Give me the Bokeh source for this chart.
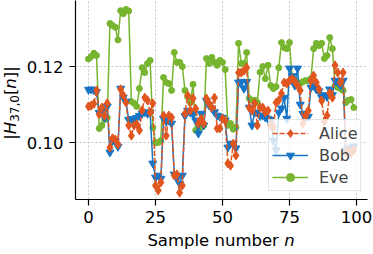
from bokeh.plotting import figure
from bokeh.models import Range1d, FixedTicker, Legend, LegendItem, Div
from bokeh.layouts import row, column
from bokeh.embed import file_html
from bokeh.resources import INLINE

n = list(range(100))

alice = [0.1095, 0.1097, 0.1102, 0.1137, 0.1074, 0.1092, 0.1071, 0.1103, 0.0987, 0.1011,
         0.1008, 0.0995, 0.1140, 0.1124, 0.1105, 0.1045, 0.1018, 0.1045, 0.1048, 0.1032,
         0.1085, 0.1118, 0.1111, 0.1079, 0.1103, 0.0887, 0.0874, 0.0895, 0.1071, 0.1018,
         0.1071, 0.1066, 0.0913, 0.0916, 0.0868, 0.0887, 0.1076, 0.1124, 0.1084, 0.1116,
         0.1089, 0.1050, 0.1062, 0.1050, 0.1116, 0.1103, 0.1092, 0.1118, 0.1037, 0.1037,
         0.1063, 0.1058, 0.0945, 0.0939, 0.0997, 0.0966, 0.1184, 0.1184, 0.1189, 0.1197,
         0.1092, 0.1084, 0.1103, 0.1045, 0.1092, 0.1092, 0.1079, 0.1084, 0.1045, 0.1040,
         0.1105, 0.1111, 0.1129, 0.1158, 0.1155, 0.1163, 0.1168, 0.1160, 0.1150, 0.1137,
         0.1050, 0.1070, 0.1084, 0.1163, 0.1176, 0.1158, 0.1140, 0.1110, 0.1055, 0.1071,
         0.1130, 0.1118, 0.1203, 0.1184, 0.1158, 0.1184, 0.0974, 0.0978, 0.0972, 0.0980]

bob = [0.1139, 0.1140, 0.1138, 0.1133, 0.1078, 0.1085, 0.1066, 0.1095, 0.0974, 0.1005,
       0.1002, 0.0989, 0.1142, 0.1118, 0.1108, 0.1060, 0.1062, 0.1058, 0.1065, 0.1070,
       0.1076, 0.1080, 0.1076, 0.1078, 0.0945, 0.0908, 0.0913, 0.0905, 0.1063, 0.1055,
       0.1058, 0.1050, 0.0916, 0.0905, 0.0892, 0.0913, 0.1070, 0.1084, 0.1079, 0.1075,
       0.1058, 0.1024, 0.1076, 0.1045, 0.1110, 0.1098, 0.1090, 0.1080, 0.1071, 0.1068,
       0.1065, 0.1058, 0.0987, 0.0997, 0.0997, 0.0985, 0.1158, 0.1160, 0.1142, 0.1160,
       0.1092, 0.1045, 0.1079, 0.1079, 0.1070, 0.1071, 0.1066, 0.1062, 0.1060, 0.1005,
       0.0980, 0.1079, 0.1090, 0.1118, 0.1063, 0.1195, 0.1175, 0.1150, 0.1195, 0.1100,
       0.1076, 0.1066, 0.1068, 0.1145, 0.1150, 0.1140, 0.1135, 0.1118, 0.1125, 0.1120,
       0.1140, 0.1125, 0.1163, 0.1160, 0.1150, 0.1163, 0.0980, 0.0985, 0.0982, 0.0990]

eve = [0.1220, 0.1226, 0.1235, 0.1229, 0.1037, 0.1045, 0.1060, 0.1065, 0.1313, 0.1308,
       0.1303, 0.1270, 0.1347, 0.1339, 0.1350, 0.1346, 0.1108, 0.1103, 0.1095, 0.1142,
       0.1197, 0.1184, 0.1208, 0.1216, 0.1039, 0.1000, 0.1000, 0.1005, 0.1171, 0.1158,
       0.1155, 0.1137, 0.1237, 0.1211, 0.1211, 0.1200, 0.1137, 0.1120, 0.1105, 0.1153,
       0.1032, 0.1035, 0.1040, 0.1045, 0.1221, 0.1208, 0.1224, 0.1211, 0.1203, 0.1216,
       0.1211, 0.1192, 0.1045, 0.1050, 0.1035, 0.1040, 0.1261, 0.1208, 0.1208, 0.1237,
       0.1116, 0.1111, 0.1111, 0.1105, 0.1185, 0.1200, 0.1168, 0.1203, 0.1150, 0.1142,
       0.1147, 0.1197, 0.1263, 0.1250, 0.1247, 0.1263, 0.1170, 0.1165, 0.1158, 0.1155,
       0.1160, 0.1163, 0.1163, 0.1168, 0.1247, 0.1261, 0.1255, 0.1261, 0.1221, 0.1229,
       0.1276, 0.1247, 0.1150, 0.1145, 0.1142, 0.1137, 0.1105, 0.1111, 0.1113, 0.1092]

x_ticks = [0, 25, 50, 75, 100]
y_ticks = [0.10, 0.12]
y_tick_labels = ["0.10", "0.12"]
names = ["Alice", "Bob", "Eve"]
colors = ["#e1561f", "#1874c4", "#77b530"]

FONT = "DejaVu Sans"
YLAB_W = 22
P_W, P_H = 373 - YLAB_W, 232
XLAB_H = 254 - P_H

p = figure(width=P_W, height=P_H, output_backend="svg", toolbar_location=None,
           x_range=Range1d(-4.85, 104.1), y_range=Range1d(0.0850, 0.13737),
           min_border_left=75 - YLAB_W, min_border_right=6, min_border_top=0,
           min_border_bottom=33)
p.outline_line_color = None
p.background_fill_color = "white"
p.border_fill_color = "white"

for ax in (p.xaxis[0], p.yaxis[0]):
    ax.axis_line_color = "black"
    ax.axis_line_width = 1.2
    ax.major_tick_line_color = "black"
    ax.major_tick_line_width = 1.2
    ax.major_tick_out = 6
    ax.major_tick_in = 0
    ax.minor_tick_line_color = None
    ax.major_label_text_font = FONT
    ax.major_label_text_font_size = "16.5px"
    ax.major_label_text_color = "black"
    ax.major_label_standoff = 6
p.xaxis.major_label_standoff = 5

p.xaxis.ticker = FixedTicker(ticks=x_ticks)
p.yaxis.ticker = FixedTicker(ticks=y_ticks)
p.yaxis.major_label_overrides = {t: l for t, l in zip(y_ticks, y_tick_labels)}

for g in (p.xgrid[0], p.ygrid[0]):
    g.grid_line_color = "#c4c4c4"
    g.grid_line_dash = "2 2"
    g.grid_line_width = 1
p.xgrid.ticker = FixedTicker(ticks=x_ticks)
p.ygrid.ticker = FixedTicker(ticks=y_ticks)

# Eve
le = p.line(n, eve, color=colors[2], line_width=1.5)
se = p.scatter(n, eve, marker="circle", size=6, color=colors[2])
# Bob
lb = p.line(n, bob, color=colors[1], line_width=1.5)
sb = p.scatter(n, bob, marker="inverted_triangle", size=8, color=colors[1])
# Alice
la = p.line(n, alice, color=colors[0], line_width=1.5, line_dash="5 2")
sa = p.scatter(n, alice, marker="diamond", size=9, color=colors[0])

legend = Legend(items=[LegendItem(label=names[0], renderers=[la, sa]),
                       LegendItem(label=names[1], renderers=[lb, sb]),
                       LegendItem(label=names[2], renderers=[le, se])],
                location=(193, 8))
legend.background_fill_color = "white"
legend.background_fill_alpha = 0.8
legend.border_line_color = "#cccccc"
legend.border_line_width = 1
legend.label_text_font = FONT
legend.label_text_font_size = "16px"
legend.glyph_width = 36
legend.glyph_height = 20
legend.label_height = 20
legend.label_standoff = 11
legend.padding = 3
legend.spacing = 2
legend.margin = 0
p.add_layout(legend)

ylab_html = (
    '<div style="width:206px;height:21px;line-height:21px;text-align:center;'
    'white-space:nowrap;font-family:\'DejaVu Sans\';font-size:16.5px;color:#000;'
    'transform-origin:0 0;transform:translate(0px,206px) rotate(-90deg);">'
    '|<i>H</i><sub style="font-size:12px;vertical-align:-3px;line-height:0">37,0</sub>'
    '[<i>n</i>]|</div>'
)
xlab_html = (
    '<div style="margin-left:%dpx;width:292px;text-align:center;white-space:nowrap;'
    'font-family:\'DejaVu Sans\';font-size:16.5px;line-height:17px;color:#000;">'
    'Sample number <i>n</i></div>' % (75 - YLAB_W)
)
ydiv = Div(text=ylab_html, width=YLAB_W, height=P_H, margin=0)
xdiv = Div(text=xlab_html, width=P_W, height=XLAB_H, margin=0)

layout = row(ydiv, column(p, xdiv, spacing=0), spacing=0)

open("out.html", "w").write(file_html(layout, INLINE))
